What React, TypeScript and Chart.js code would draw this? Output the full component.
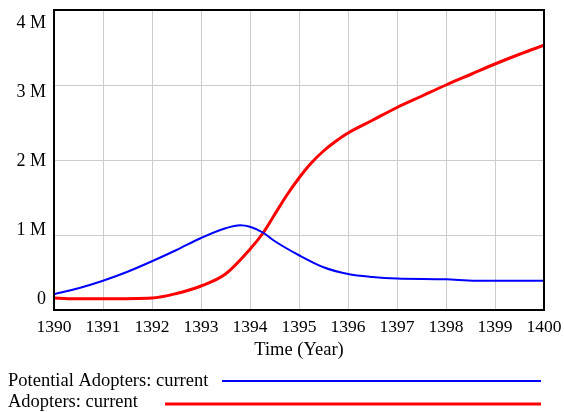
import React, { useEffect, useRef } from "react";
import { Chart, registerables } from "chart.js";

Chart.register(...registerables);

const potentialYears = [1390, 1390.5, 1391, 1391.5, 1392, 1392.5, 1393, 1393.5, 1393.8, 1394, 1394.27, 1394.5, 1395, 1395.5, 1396, 1396.5, 1397, 1398, 1398.6, 1399, 1400];
const potentialValues = [0.21, 0.29, 0.39, 0.51, 0.65, 0.80, 0.96, 1.09, 1.13, 1.11, 1.03, 0.92, 0.73, 0.57, 0.48, 0.44, 0.42, 0.41, 0.39, 0.39, 0.39];

const adopterYears = [1390, 1390.3, 1391, 1392, 1392.5, 1393, 1393.5, 1394, 1394.27, 1394.5, 1394.75, 1395, 1395.25, 1395.5, 1395.75, 1396, 1396.5, 1397, 1397.5, 1398, 1398.5, 1399, 1399.5, 1400];
const adopterValues = [0.16, 0.15, 0.15, 0.16, 0.22, 0.32, 0.48, 0.81, 1.03, 1.27, 1.53, 1.76, 1.96, 2.12, 2.25, 2.36, 2.53, 2.70, 2.85, 3.0, 3.14, 3.28, 3.41, 3.53];

const yTicks = [0, 1, 2, 3, 4];
const yTickLabels = ["0", "1 M", "2 M", "3 M", "4 M"];
const seriesNames = ["Potential Adopters: current", "Adopters: current"];
const seriesColors = ["#0000ff", "#ff0000"];
const xTitle = "Time (Year)";

const FONT = "'Liberation Serif', 'Times New Roman', serif";

export default function App() {
  const ref = useRef<HTMLCanvasElement | null>(null);
  useEffect(() => {
    if (!ref.current) return;
    const frame = {
      id: "frame",
      afterDraw(chart: any) {
        const { ctx, chartArea } = chart;
        const { top, bottom, left, right } = chartArea;
        ctx.save();
        ctx.strokeStyle = "#000";
        ctx.lineWidth = 2;
        ctx.strokeRect(left, top, right - left, bottom - top);
        // y tick labels, spread inside the frame like the original
        const ys = chart.scales.y;
        ctx.font = `18px ${FONT}`;
        ctx.fillStyle = "#000";
        ctx.textAlign = "right";
        ctx.textBaseline = "alphabetic";
        const h = bottom - top;
        ys.ticks.forEach((t: any) => {
          const p = ys.getPixelForValue(t.value);
          const y = top + 18 + (p - top) * (h - 24) / h;
          ctx.fillText(yTickLabels[yTicks.indexOf(t.value)] ?? "", left - 8, y);
        });
        // legend
        ctx.font = `18.5px ${FONT}`;
        ctx.textAlign = "left";
        const rows = [
          { ty: 386, y: 381, x0: 222, w: 2 },
          { ty: 407, y: 404, x0: 165, w: 3 },
        ];
        rows.forEach((r, i) => {
          ctx.fillStyle = "#000";
          ctx.fillText(seriesNames[i], 8, r.ty);
          ctx.strokeStyle = seriesColors[i];
          ctx.lineWidth = r.w;
          ctx.beginPath();
          ctx.moveTo(r.x0, r.y);
          ctx.lineTo(541, r.y);
          ctx.stroke();
        });
        ctx.restore();
      },
    };
    const chart = new Chart(ref.current, {
      type: "line",
      data: {
        datasets: [
          {
            label: seriesNames[0],
            data: potentialYears.map((x, i) => ({ x, y: potentialValues[i] })),
            borderColor: seriesColors[0],
            borderWidth: 2,
            pointRadius: 0,
            cubicInterpolationMode: "monotone",
          },
          {
            label: seriesNames[1],
            data: adopterYears.map((x, i) => ({ x, y: adopterValues[i] })),
            borderColor: seriesColors[1],
            borderWidth: 3,
            pointRadius: 0,
            cubicInterpolationMode: "monotone",
          },
        ],
      },
      options: {
        responsive: false,
        animation: false,
        layout: { padding: { top: 10, right: 20, left: 0, bottom: 46.5 } },
        plugins: { legend: { display: false }, tooltip: { enabled: false } },
        scales: {
          x: {
            type: "linear",
            min: 1390,
            max: 1400,
            grid: { color: "#cccccc", drawTicks: false },
            border: { display: false },
            ticks: {
              stepSize: 1,
              padding: 7,
              color: "#000",
              maxRotation: 0,
              font: { family: FONT, size: 17.5 },
              callback: (v: any) => String(v),
            },
            title: { display: true, text: xTitle, color: "#000", font: { family: FONT, size: 18.5 }, padding: { top: 2, bottom: 4 } },
            afterFit: (s: any) => { s.height = 55.5; s.paddingLeft = 0; s.paddingRight = 0; },
          },
          y: {
            min: 0,
            max: 4,
            grid: { color: "#cccccc", drawTicks: false },
            border: { display: false },
            afterBuildTicks: (s: any) => { s.ticks = yTicks.map((v) => ({ value: v })); },
            ticks: { display: false },
            afterFit: (s: any) => { s.width = 54; s.paddingTop = 0; s.paddingBottom = 0; },
          },
        },
      },
      plugins: [frame],
    });
    return () => chart.destroy();
  }, []);
  return (
    <div style={{ position: "fixed", left: 0, top: 0, width: 564, height: 412, background: "#fff" }}>
      <canvas ref={ref} width={564} height={412} />
    </div>
  );
}
